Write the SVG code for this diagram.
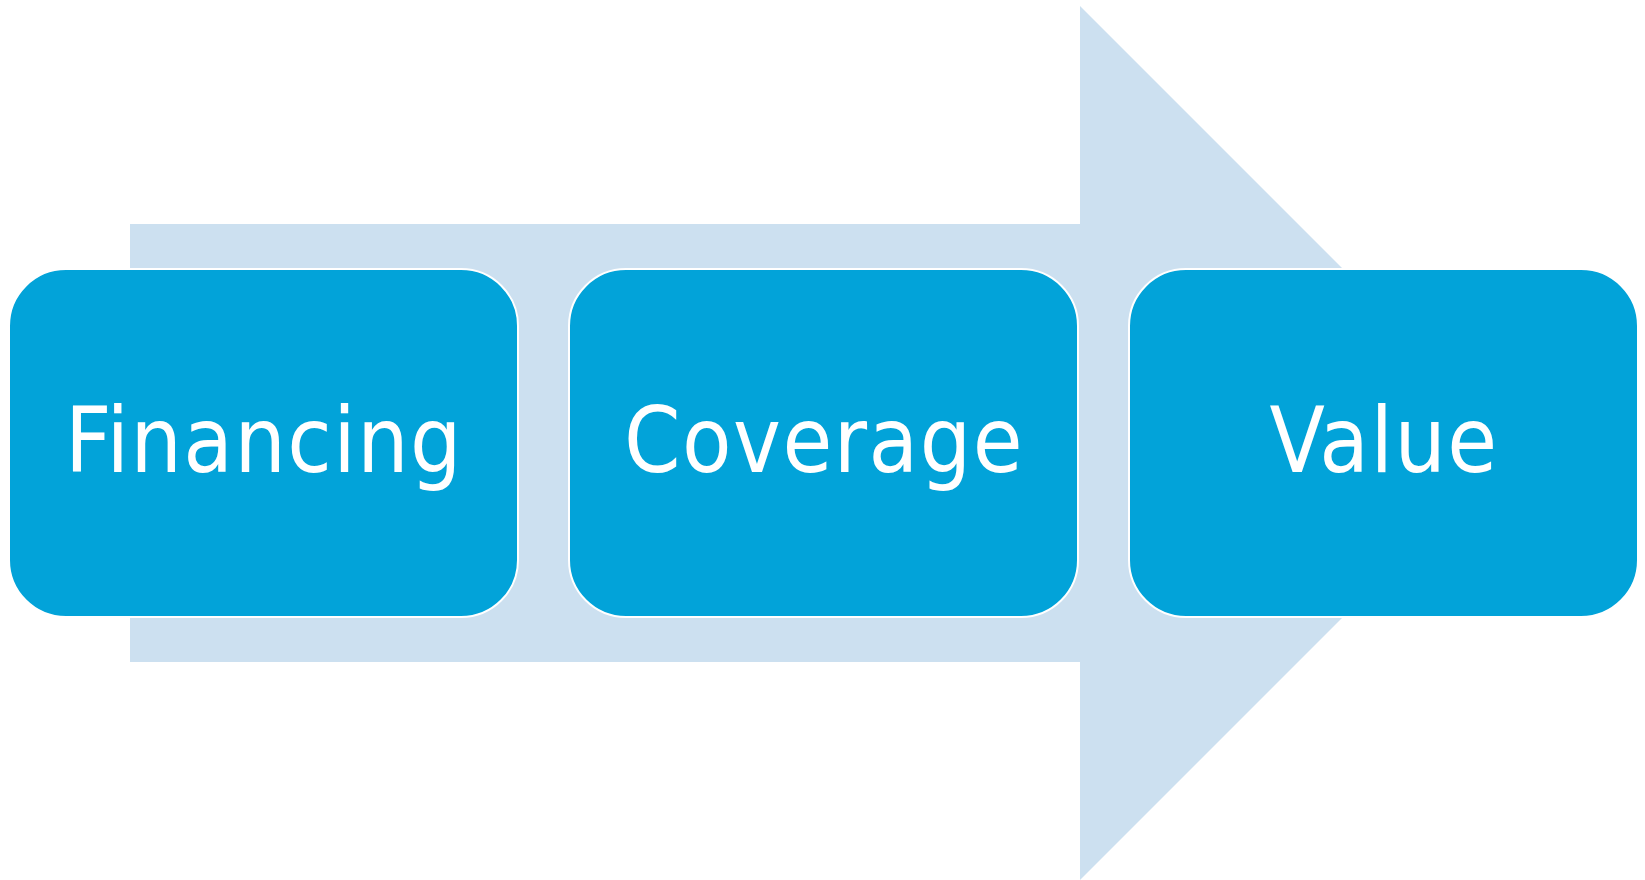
<svg xmlns="http://www.w3.org/2000/svg" width="1645" height="880" viewBox="0 0 1645 880">
  <style>
    .step rect { fill: #02A3D9; stroke: #FFFFFF; stroke-width: 2; }
    .step text { fill: #FFFFFF; font-family: "DejaVu Sans", sans-serif; font-stretch: condensed; font-size: 90px; letter-spacing: 1.5px; text-anchor: middle; }
  </style>
  <!-- background block arrow -->
  <g id="arrow">
    <polygon points="130,224 1080,224 1080,6 1517,443 1080,880 1080,662 130,662" fill="#CCE0F0"/>
  </g>
  <g id="connectors"></g>
  <g id="financing" class="step">
    <rect x="9" y="269" width="509" height="348" rx="57" ry="57"/>
    <text x="264" y="472">Financing</text>
  </g>
  <g id="coverage" class="step">
    <rect x="569" y="269" width="509" height="348" rx="57" ry="57"/>
    <text x="824" y="472">Coverage</text>
  </g>
  <g id="value" class="step">
    <rect x="1129" y="269" width="509" height="348" rx="57" ry="57"/>
    <text x="1384" y="472">Value</text>
  </g>
</svg>
